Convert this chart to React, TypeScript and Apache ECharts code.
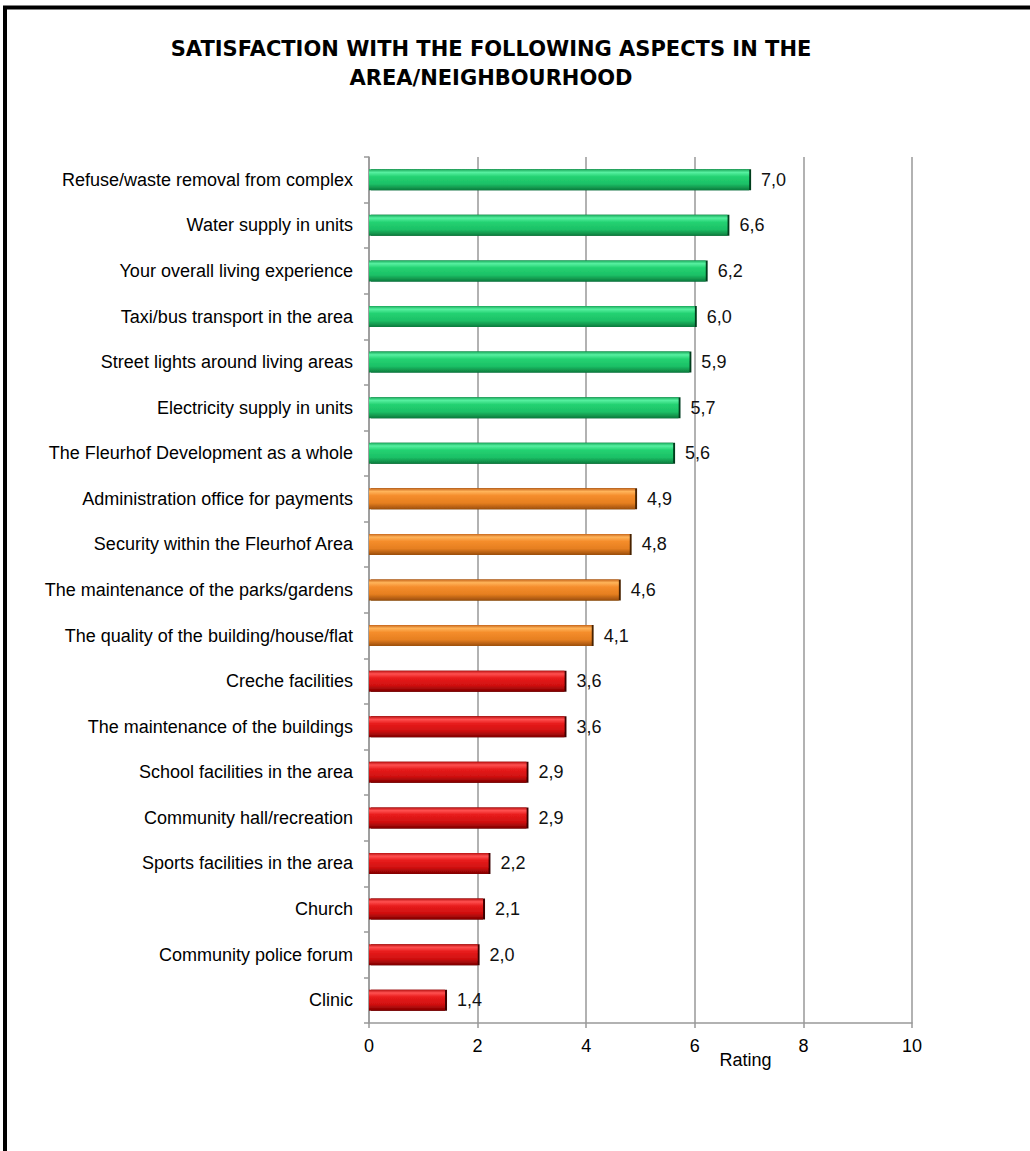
import React, { useEffect, useRef } from "react";
import * as echarts from "echarts";

const titleLines = ["SATISFACTION WITH THE FOLLOWING ASPECTS IN THE", "AREA/NEIGHBOURHOOD"];

const categories = [
  "Refuse/waste removal from complex",
  "Water supply in units",
  "Your overall living experience",
  "Taxi/bus transport in the area",
  "Street lights around living areas",
  "Electricity supply in units",
  "The Fleurhof Development as a whole",
  "Administration office for payments",
  "Security within the Fleurhof Area",
  "The maintenance of the parks/gardens",
  "The quality of the building/house/flat",
  "Creche facilities",
  "The maintenance of the buildings",
  "School facilities in the area",
  "Community hall/recreation",
  "Sports facilities in the area",
  "Church",
  "Community police forum",
  "Clinic",
];

const values = [7.0, 6.6, 6.2, 6.0, 5.9, 5.7, 5.6, 4.9, 4.8, 4.6, 4.1, 3.6, 3.6, 2.9, 2.9, 2.2, 2.1, 2.0, 1.4];

const groups = ["high", "high", "high", "high", "high", "high", "high", "mid", "mid", "mid", "mid", "low", "low", "low", "low", "low", "low", "low", "low"];

const xTicks = [0, 2, 4, 6, 8, 10];
const axisName = "Rating";

const palette: Record<string, { stops: string[]; edge: string }> = {
  high: { stops: ["#1aa85a", "#56f0a0", "#24d272", "#1cc066", "#0c7a3c"], edge: "#053d1c" },
  mid: { stops: ["#c8661a", "#ffb45a", "#f58d2c", "#e67f20", "#9a4d0c"], edge: "#4a2204" },
  low: { stops: ["#b81010", "#ff5050", "#e81c1c", "#d01010", "#7e0000"], edge: "#3a0000" },
};

function gradientFor(group: string) {
  const p = palette[group];
  return new echarts.graphic.LinearGradient(0, 0, 0, 1, [
    { offset: 0, color: p.stops[0] },
    { offset: 0.15, color: p.stops[1] },
    { offset: 0.35, color: p.stops[2] },
    { offset: 0.7, color: p.stops[3] },
    { offset: 1, color: p.stops[4] },
  ]);
}

export default function App() {
  const ref = useRef<HTMLDivElement>(null);

  useEffect(() => {
    if (!ref.current) return;
    const chart = echarts.init(ref.current, null, { renderer: "svg" });
    const fontFamily = "'Liberation Sans', Arial, sans-serif";
    const titleFont = "bold 21px 'DejaVu Sans', Verdana, sans-serif";

    chart.setOption({
      animation: false,
      backgroundColor: "#ffffff",
      grid: { left: 369, right: 118, top: 157, bottom: 128, containLabel: false },
      graphic: [
        {
          type: "line",
          shape: { x1: 3, y1: 7.5, x2: 1030, y2: 7.5 },
          style: { stroke: "#000", lineWidth: 4 },
        },
        {
          type: "line",
          shape: { x1: 5, y1: 6, x2: 5, y2: 1151 },
          style: { stroke: "#000", lineWidth: 4 },
        },
        {
          type: "text",
          x: 491,
          y: 49,
          style: {
            text: titleLines[0],
            font: titleFont,
            fill: "#000",
            align: "center",
            verticalAlign: "middle",
          },
        },
        {
          type: "text",
          x: 491,
          y: 78,
          style: {
            text: titleLines[1],
            font: titleFont,
            fill: "#000",
            align: "center",
            verticalAlign: "middle",
          },
        },
      ],
      xAxis: {
        type: "value",
        min: xTicks[0],
        max: xTicks[xTicks.length - 1],
        interval: 2,
        name: axisName,
        nameLocation: "middle",
        nameGap: 28,
        nameMoveOverlap: false,
        nameTextStyle: { fontFamily, fontSize: 18, color: "#000", padding: [0, 0, 0, 210] },
        axisLine: { show: true, lineStyle: { color: "#999", width: 1.5 } },
        axisTick: { show: true, length: 5, lineStyle: { color: "#999", width: 1.5 } },
        axisLabel: { fontFamily, fontSize: 18, color: "#000", margin: 14 },
        splitLine: { show: true, lineStyle: { color: "#999", width: 1.5 } },
      },
      yAxis: {
        type: "category",
        data: categories,
        inverse: true,
        axisLine: { show: true, lineStyle: { color: "#999", width: 1.5 } },
        axisTick: { show: true, length: 5, lineStyle: { color: "#999", width: 1.5 } },
        axisLabel: { fontFamily, fontSize: 18, color: "#000", margin: 16 },
        splitLine: { show: false },
      },
      series: [
        {
          type: "bar",
          barWidth: 21,
          data: values.map((v, i) => ({
            value: v,
            itemStyle: {
              color: gradientFor(groups[i]),
              shadowColor: palette[groups[i]].edge,
              shadowOffsetX: 2,
              shadowBlur: 0,
            },
          })),
          label: {
            show: true,
            position: "right",
            distance: 12,
            fontFamily,
            fontSize: 18,
            color: "#111",
            formatter: (p: any) => Number(p.value).toFixed(1).replace(".", ","),
          },
        },
      ],
    });

    return () => chart.dispose();
  }, []);

  return (
    <div
      ref={ref}
      style={{ position: "fixed", left: 0, top: 0, width: 1030, height: 1151, background: "#fff" }}
    />
  );
}
